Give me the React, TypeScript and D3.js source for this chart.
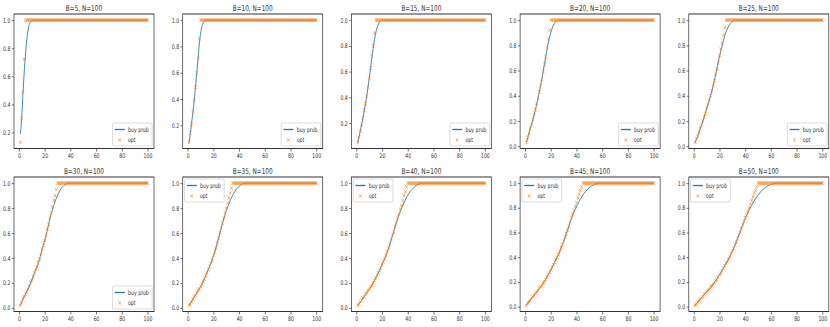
import React, { useRef, useEffect } from "react";
import * as d3 from "d3";

const N = 100;
const budgets = [5, 10, 15, 20, 25, 30, 35, 40, 45, 50];
const legendLoc = ["lr", "lr", "lr", "lr", "lr", "lr", "ul", "ul", "ul", "ul"];
const seriesNames = ["buy prob", "opt"];

// opt before it jumps to the plateau (x = 1 .. B-1), plateau at 1.0 from x = B
const optLevel = 1.0;
const optRise5 = [0.13, 0.3, 0.49, 0.72];
const optRise10 = [0.07, 0.14, 0.21, 0.3, 0.39, 0.49, 0.6, 0.71, 0.86];
const optRise15 = [0.05, 0.09, 0.14, 0.19, 0.24, 0.3, 0.35, 0.41, 0.48, 0.55, 0.63, 0.72, 0.8, 0.9];
const optRise20 = [0.03, 0.07, 0.1, 0.14, 0.17, 0.21, 0.25, 0.29, 0.34, 0.38, 0.43, 0.48, 0.53, 0.59, 0.65, 0.71, 0.78, 0.85, 0.92];
const optRise25 = [0.03, 0.06, 0.08, 0.11, 0.14, 0.17, 0.2, 0.23, 0.26, 0.3, 0.33, 0.36, 0.4, 0.44, 0.48, 0.52, 0.57, 0.61, 0.66, 0.72, 0.77, 0.82, 0.88, 0.94];
const optRise30 = [0.02, 0.04, 0.07, 0.09, 0.11, 0.13, 0.15, 0.17, 0.2, 0.22, 0.25, 0.28, 0.31, 0.33, 0.36, 0.39, 0.43, 0.47, 0.5, 0.54, 0.58, 0.63, 0.67, 0.72, 0.76, 0.81, 0.86, 0.9, 0.95];
const optRise35 = [0.02, 0.03, 0.05, 0.07, 0.09, 0.1, 0.12, 0.14, 0.15, 0.17, 0.19, 0.21, 0.23, 0.26, 0.28, 0.31, 0.33, 0.36, 0.38, 0.42, 0.45, 0.48, 0.52, 0.56, 0.6, 0.64, 0.68, 0.72, 0.76, 0.8, 0.84, 0.88, 0.92, 0.96];
const optRise40 = [0.02, 0.03, 0.05, 0.06, 0.08, 0.09, 0.11, 0.12, 0.14, 0.15, 0.17, 0.18, 0.2, 0.22, 0.24, 0.26, 0.28, 0.3, 0.32, 0.35, 0.37, 0.39, 0.42, 0.45, 0.48, 0.51, 0.54, 0.58, 0.61, 0.65, 0.68, 0.72, 0.75, 0.79, 0.82, 0.86, 0.9, 0.93, 0.97];
const optRise45 = [0.01, 0.03, 0.04, 0.05, 0.07, 0.08, 0.09, 0.11, 0.12, 0.13, 0.15, 0.16, 0.17, 0.19, 0.2, 0.22, 0.24, 0.26, 0.28, 0.3, 0.32, 0.34, 0.36, 0.38, 0.4, 0.42, 0.45, 0.48, 0.5, 0.53, 0.56, 0.59, 0.62, 0.65, 0.68, 0.72, 0.75, 0.78, 0.81, 0.84, 0.88, 0.91, 0.94, 0.97];
const optRise50 = [0.01, 0.02, 0.04, 0.05, 0.06, 0.07, 0.08, 0.1, 0.11, 0.12, 0.13, 0.14, 0.16, 0.17, 0.18, 0.19, 0.21, 0.22, 0.24, 0.26, 0.27, 0.29, 0.31, 0.33, 0.35, 0.36, 0.38, 0.4, 0.43, 0.45, 0.47, 0.5, 0.52, 0.55, 0.58, 0.6, 0.63, 0.66, 0.69, 0.72, 0.74, 0.77, 0.8, 0.83, 0.86, 0.89, 0.92, 0.94, 0.97];

// buy prob curve, knots
const buyX5 = [1, 2, 3, 4, 5, 6, 7, 8, 9, 10, 100];
const buyY5 = [0.19, 0.3, 0.47, 0.63, 0.76, 0.86, 0.93, 0.97, 0.99, 1.0, 1.0];
const buyX10 = [1, 2, 3, 4, 5, 6, 7, 8, 9, 10, 11, 12, 13, 14, 100];
const buyY10 = [0.07, 0.14, 0.22, 0.3, 0.39, 0.49, 0.6, 0.71, 0.82, 0.9, 0.95, 0.98, 0.995, 1.0, 1.0];
const buyX15 = [1, 3, 5, 7, 9, 11, 12, 13, 14, 15, 16, 17, 18, 20, 100];
const buyY15 = [0.05, 0.14, 0.24, 0.35, 0.48, 0.63, 0.71, 0.78, 0.85, 0.9, 0.94, 0.97, 0.985, 1.0, 1.0];
const buyX20 = [1, 2, 4, 6, 8, 10, 12, 14, 16, 18.4, 20.8, 23.2, 25.6, 100];
const buyY20 = [0.03, 0.07, 0.14, 0.21, 0.29, 0.38, 0.48, 0.59, 0.71, 0.84, 0.93, 0.98, 1.0, 1.0];
const buyX25 = [1, 3, 5, 8, 10, 13, 15, 17, 20, 23, 26, 29, 32, 100];
const buyY25 = [0.03, 0.08, 0.14, 0.23, 0.3, 0.4, 0.48, 0.57, 0.715, 0.84, 0.93, 0.98, 1.0, 1.0];
const buyX30 = [1, 3, 6, 9, 12, 15, 18, 21, 24, 27.6, 31.2, 34.8, 38.4, 100];
const buyY30 = [0.02, 0.07, 0.13, 0.2, 0.28, 0.36, 0.47, 0.58, 0.715, 0.84, 0.93, 0.98, 1.0, 1.0];
const buyX35 = [1, 4, 7, 11, 14, 18, 21, 25, 28, 32.2, 36.4, 40.6, 44.8, 100];
const buyY35 = [0.02, 0.07, 0.12, 0.19, 0.26, 0.36, 0.45, 0.6, 0.715, 0.84, 0.93, 0.98, 1.0, 1.0];
const buyX40 = [1, 4, 8, 12, 16, 20, 24, 28, 32, 36.8, 41.6, 46.4, 51.2, 100];
const buyY40 = [0.02, 0.06, 0.12, 0.18, 0.26, 0.35, 0.45, 0.58, 0.715, 0.84, 0.93, 0.98, 1.0, 1.0];
const buyX45 = [1, 5, 9, 14, 18, 23, 27, 32, 36, 41.4, 46.8, 52.2, 57.6, 100];
const buyY45 = [0.01, 0.07, 0.12, 0.19, 0.26, 0.36, 0.45, 0.59, 0.715, 0.84, 0.93, 0.98, 1.0, 1.0];
const buyX50 = [1, 5, 10, 15, 20, 25, 30, 35, 40, 46, 52, 58, 64, 100];
const buyY50 = [0.01, 0.06, 0.12, 0.18, 0.26, 0.35, 0.45, 0.58, 0.715, 0.84, 0.93, 0.98, 1.0, 1.0];

const optRise = [optRise5, optRise10, optRise15, optRise20, optRise25, optRise30, optRise35, optRise40, optRise45, optRise50];
const buyX = [buyX5, buyX10, buyX15, buyX20, buyX25, buyX30, buyX35, buyX40, buyX45, buyX50];
const buyY = [buyY5, buyY10, buyY15, buyY20, buyY25, buyY30, buyY35, buyY40, buyY45, buyY50];

const BLUE = "#1f77b4";
const ORANGE = "#ff7f0e";
const INK = "#333";

// the figure looks squeezed sideways, so draw in a wider box and squash it
const W = 830;
const H = 327;
const SX = 1.3855;
const IW = W * SX;

const Chart = () => {
  const ref = useRef(null);

  useEffect(() => {
    const svg = d3.select(ref.current);
    svg.selectAll("*").remove();

    const axW = 140 * SX;
    const axH = 134.5;
    const rowTop = [14, 177];

    budgets.forEach((B, i) => {
      const r = Math.floor(i / 5);
      const c = i % 5;
      const left = (14 + c * 168.7) * SX;
      const top = rowTop[r];

      const steps = d3.range(1, N + 1);
      const opt = steps.map((s) => (s < B ? optRise[i][s - 1] : optLevel));
      const buy = buyX[i].map((x, k) => [x, buyY[i][k]]);

      const yLo = Math.min(d3.min(opt), d3.min(buyY[i]));
      const yHi = 1.0;
      const yPad = (yHi - yLo) * 0.05;
      const xPad = (N - 1) * 0.05;

      const x = d3.scaleLinear().domain([1 - xPad, N + xPad]).range([0, axW]);
      const y = d3.scaleLinear().domain([yLo - yPad, yHi + yPad]).range([axH, 0]);

      const g = svg.append("g").attr("transform", `translate(${left},${top})`);

      const xAxis = g
        .append("g")
        .attr("transform", `translate(0,${axH})`)
        .call(d3.axisBottom(x).ticks(5).tickSize(3).tickPadding(2));
      const yAxis = g
        .append("g")
        .call(d3.axisLeft(y).ticks(5).tickSize(3).tickPadding(2).tickFormat(d3.format(".1f")));

      [xAxis, yAxis].forEach((a) => {
        a.select(".domain").remove();
        a.attr("font-size", 6.4).attr("font-family", "DejaVu Sans");
        a.selectAll("line").attr("stroke", INK).attr("stroke-width", 0.8);
        a.selectAll("text").attr("fill", INK);
      });

      const line = d3
        .line()
        .x((d) => x(d[0]))
        .y((d) => y(d[1]))
        .curve(d3.curveMonotoneX);

      g.append("path")
        .attr("d", line(buy))
        .attr("fill", "none")
        .attr("stroke", BLUE)
        .attr("stroke-width", 1.0);

      const m = 1.7;
      const cross = `M${-m},${-m}L${m},${m}M${-m},${m}L${m},${-m}`;
      g.append("g")
        .selectAll("path")
        .data(opt)
        .enter()
        .append("path")
        .attr("d", cross)
        .attr("transform", (d, k) => `translate(${x(steps[k])},${y(d)})`)
        .attr("stroke", ORANGE)
        .attr("stroke-width", 0.7)
        .attr("fill", "none");

      g.append("rect")
        .attr("width", axW)
        .attr("height", axH)
        .attr("fill", "none")
        .attr("stroke", INK)
        .attr("stroke-width", 1);

      g.append("text")
        .attr("x", axW / 2)
        .attr("y", -3.5)
        .attr("text-anchor", "middle")
        .attr("font-family", "DejaVu Sans")
        .attr("font-size", 8)
        .attr("fill", INK)
        .text(`B=${B}, N=${N}`);

      // legend
      const lw = 55;
      const lh = 23;
      const lx = legendLoc[i] === "lr" ? axW - lw - 2.5 : 2.5;
      const ly = legendLoc[i] === "lr" ? axH - lh - 2.5 : 2;
      const leg = g.append("g").attr("transform", `translate(${lx},${ly})`);
      leg
        .append("rect")
        .attr("width", lw)
        .attr("height", lh)
        .attr("rx", 1.5)
        .attr("fill", "white")
        .attr("fill-opacity", 0.8)
        .attr("stroke", "#ccc")
        .attr("stroke-width", 0.8);
      leg
        .append("line")
        .attr("x1", 3.2)
        .attr("x2", 17)
        .attr("y1", 6.5)
        .attr("y2", 6.5)
        .attr("stroke", BLUE)
        .attr("stroke-width", 1.3);
      leg
        .append("path")
        .attr("d", cross)
        .attr("transform", `translate(10,17)`)
        .attr("stroke", ORANGE)
        .attr("stroke-width", 0.7);
      leg
        .selectAll("text")
        .data(seriesNames)
        .enter()
        .append("text")
        .attr("x", 21.5)
        .attr("y", (d, k) => (k === 0 ? 6.5 : 17))
        .attr("dy", "0.35em")
        .attr("font-family", "DejaVu Sans")
        .attr("font-size", 6.5)
        .attr("fill", INK)
        .text((d) => d);
    });
  }, []);

  return (
    <svg
      ref={ref}
      width={W}
      height={H}
      viewBox={`0 0 ${IW} ${H}`}
      preserveAspectRatio="none"
      style={{ position: "absolute", left: 0, top: 0, background: "white" }}
    ></svg>
  );
};

export default function App() {
  return <Chart />;
}
